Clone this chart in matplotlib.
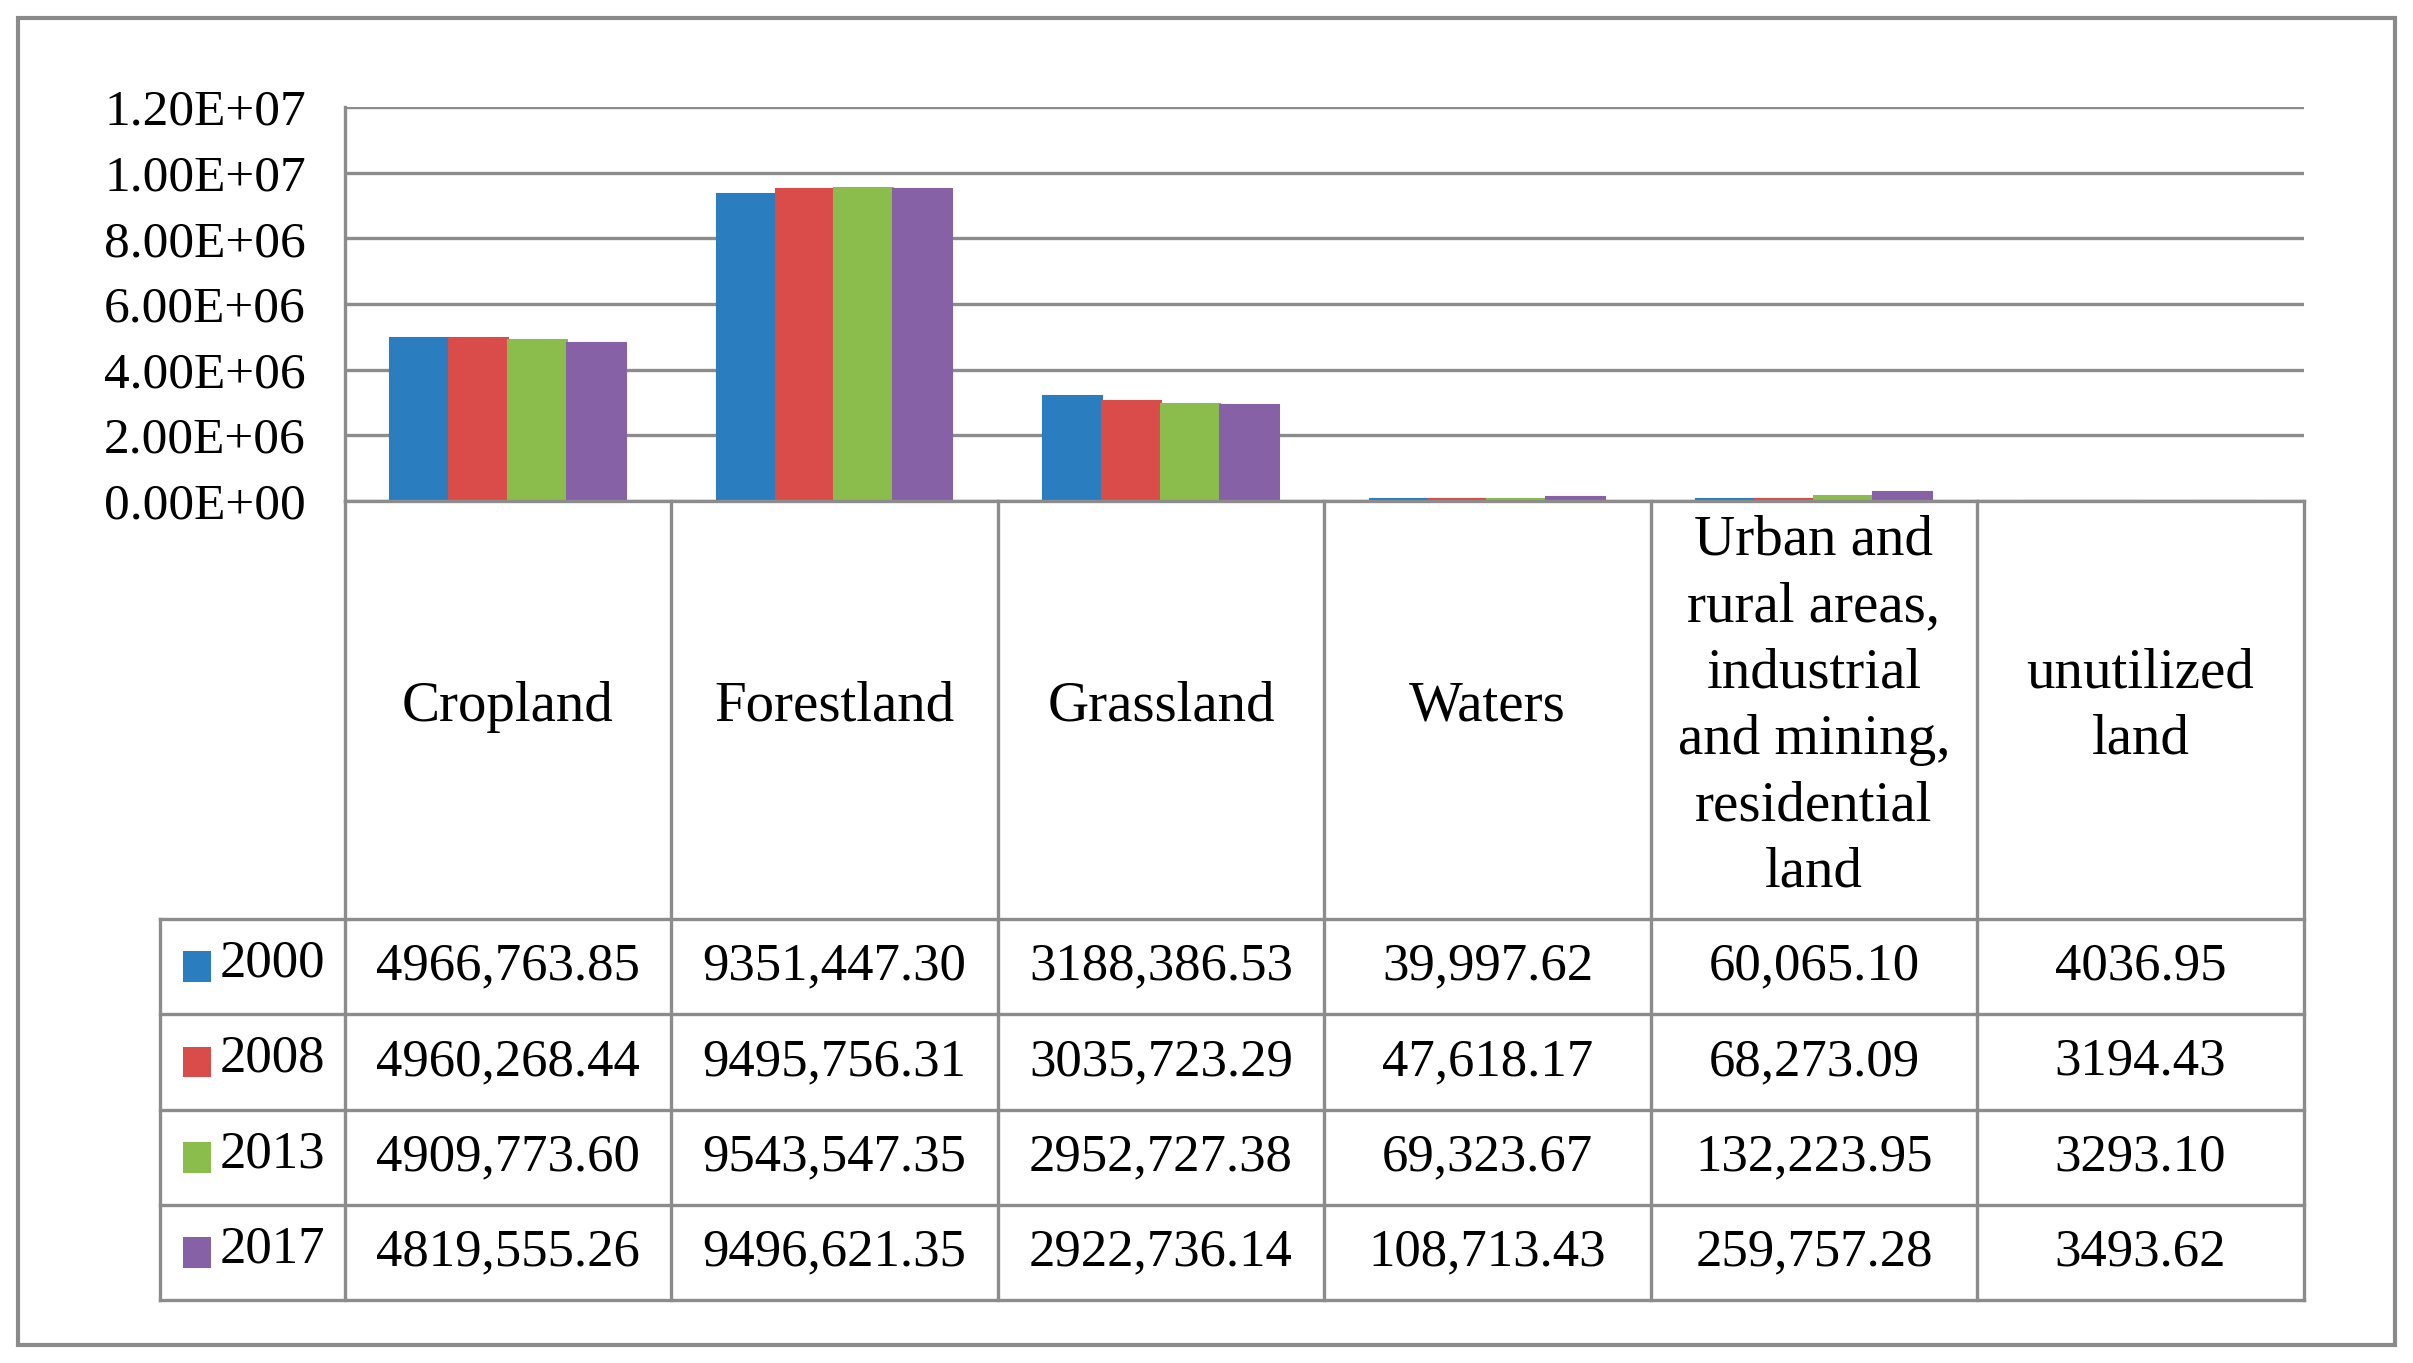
import matplotlib
matplotlib.use("Agg")
import matplotlib.pyplot as plt
from matplotlib.patches import Rectangle
from matplotlib.ticker import FuncFormatter

categories = ["Cropland", "Forestland", "Grassland", "Waters",
              "Urban and\nrural areas,\nindustrial\nand mining,\nresidential\nland",
              "unutilized\nland"]
years = ["2000", "2008", "2013", "2017"]
table_2000 = ["4966,763.85", "9351,447.30", "3188,386.53", "39,997.62", "60,065.10", "4036.95"]
table_2008 = ["4960,268.44", "9495,756.31", "3035,723.29", "47,618.17", "68,273.09", "3194.43"]
table_2013 = ["4909,773.60", "9543,547.35", "2952,727.38", "69,323.67", "132,223.95", "3293.10"]
table_2017 = ["4819,555.26", "9496,621.35", "2922,736.14", "108,713.43", "259,757.28", "3493.62"]
table_rows = [table_2000, table_2008, table_2013, table_2017]
colors = ["#2a7ebf", "#d94c4a", "#8bbd4c", "#8661a6"]

plt.rcParams["font.family"] = ["Liberation Serif", "DejaVu Serif"]

# layout is measured on a 1568 x 890 grid of the reference
W, H = 1568.0, 890.0
line_col = "#8c8c8c"
lw = 2.4

fig = plt.figure(figsize=(24.13, 13.63), dpi=100)
fig.patch.set_facecolor("white")

# outer frame
fig.patches.append(Rectangle((12 / W, 1 - 878 / H), (1556 - 12) / W, (878 - 12) / H,
                             transform=fig.transFigure, fill=False,
                             edgecolor="#8a8a8a", linewidth=3))

ax = fig.add_axes([224 / W, 1 - 327 / H, (1497 - 224) / W, (327 - 70) / H])
n = len(categories)
xs = list(range(n))
bw = 0.18
for i, row in enumerate(table_rows):
    vals = [float(s.replace(",", "")) for s in row]
    ax.bar([x + (i - 1.5) * bw for x in xs], vals, bw, color=colors[i],
           edgecolor=colors[i], linewidth=1.5, zorder=3)

ax.set_xlim(-0.5, n - 0.5)
ax.set_ylim(0, 1.2e7)
ax.set_yticks([0, 2e6, 4e6, 6e6, 8e6, 1e7, 1.2e7])
ax.yaxis.set_major_formatter(FuncFormatter(lambda v, p: f"{v:.2E}"))
ax.tick_params(axis="y", length=0, pad=28, labelsize=37)
ax.set_xticks([])
ax.grid(axis="y", color=line_col, linewidth=lw, zorder=0)
for s in ["top", "right"]:
    ax.spines[s].set_visible(False)
for s in ["left", "bottom"]:
    ax.spines[s].set_color(line_col)
    ax.spines[s].set_linewidth(lw)
    ax.spines[s].set_zorder(4)

# data table below the bars
tax = fig.add_axes([104 / W, 1 - 849 / H, (1497 - 104) / W, (849 - 327) / H])
col_w = (1497 - 224) / W / n * W  # display px per column
leg_w = 120 / col_w
tax.set_xlim(-0.5 - leg_w, n - 0.5)
header_h = 273.0
row_h = (522.0 - header_h) / 4
tax.set_ylim(522, 0)
tax.axis("off")

for k in range(n + 1):
    tax.plot([k - 0.5, k - 0.5], [0, 522], color=line_col, lw=lw, clip_on=False)
tax.plot([-0.5 - leg_w, -0.5 - leg_w], [header_h, 522], color=line_col, lw=lw, clip_on=False)
for r in range(5):
    y = header_h + r * row_h
    tax.plot([-0.5 - leg_w, n - 0.5], [y, y], color=line_col, lw=lw, clip_on=False)

for j, cat in enumerate(categories):
    tax.text(j, header_h / 2 - 2, cat, ha="center", va="center", fontsize=41, linespacing=1.36)

for i, row in enumerate(table_rows):
    yc = header_h + (i + 0.5) * row_h
    tax.add_patch(Rectangle((-0.5 - leg_w + 15 / col_w, yc - 10), 18 / col_w, 20,
                            facecolor=colors[i], edgecolor="none", clip_on=False))
    tax.text(-0.5 - leg_w + 39 / col_w, yc - 2, years[i], ha="left", va="center", fontsize=38)
    for j, s in enumerate(row):
        tax.text(j, yc, s, ha="center", va="center", fontsize=38)

fig.savefig("out.png", dpi=100)
